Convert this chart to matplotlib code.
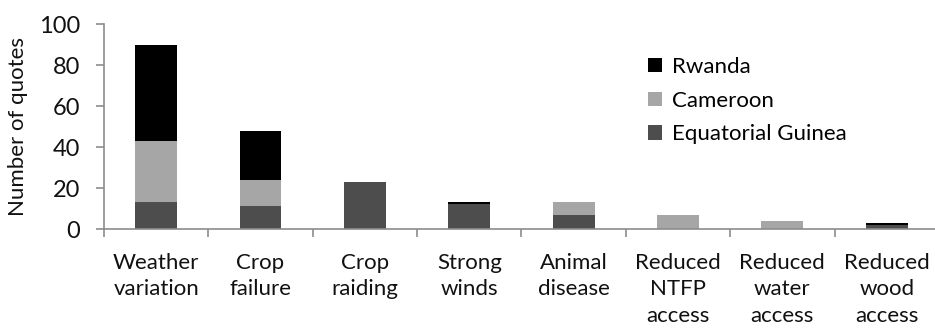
import matplotlib
matplotlib.use("Agg")
import matplotlib.pyplot as plt
import numpy as np

categories = ["Weather\nvariation", "Crop\nfailure", "Crop\nraiding", "Strong\nwinds",
              "Animal\ndisease", "Reduced\nNTFP\naccess", "Reduced\nwater\naccess", "Reduced\nwood\naccess"]
equatorial_guinea = [13, 11, 23, 12, 7, 0, 0, 2]
cameroon = [30, 13, 0, 0, 6, 7, 4, 0]
rwanda = [47, 24, 0, 1, 0, 0, 0, 1]
yticks = [0, 20, 40, 60, 80, 100]

plt.rcParams['font.family'] = ['Lato', 'DejaVu Sans']

fig = plt.figure(figsize=(9.35, 3.32), dpi=100)
ax = fig.add_axes([0.1112, 0.3102, 0.893, 0.6175])

x = np.arange(len(categories))
eg = np.array(equatorial_guinea)
cm = np.array(cameroon)
rw = np.array(rwanda)
w = 0.4
b1 = ax.bar(x, eg, w, color="#4d4d4d", label="Equatorial Guinea")
b2 = ax.bar(x, cm, w, bottom=eg, color="#a6a6a6", label="Cameroon")
b3 = ax.bar(x, rw, w, bottom=eg + cm, color="#000000", label="Rwanda")

ax.set_xlim(-0.5, len(categories) - 0.5)
ax.set_ylim(0, 100)
ax.set_yticks(yticks)
ax.set_xticks(x)
ax.set_xticklabels(categories, fontsize=16, color="#111111", linespacing=1.42)
ax.set_xticks(np.arange(len(categories) + 1) - 0.5, minor=True)
ax.tick_params(axis="x", which="major", length=0, pad=17)
ax.tick_params(axis="x", which="minor", length=6, width=1.2, color="#8c8c8c")
ax.tick_params(axis="y", length=6, width=1.2, color="#8c8c8c", labelsize=17, labelcolor="#111111", pad=11)
for s in ["top", "right"]:
    ax.spines[s].set_visible(False)
for s in ["left", "bottom"]:
    ax.spines[s].set_color("#8c8c8c")
    ax.spines[s].set_linewidth(1.2)
ax.set_ylabel("Number of quotes", fontsize=16, color="#111111", labelpad=8)

ax.legend(handles=[b3, b2, b1], loc="upper left", bbox_to_anchor=(0.652, 0.84),
          frameon=False, fontsize=16, handlelength=0.6, handleheight=0.6,
          handletextpad=0.45, labelspacing=0.62, borderpad=0, borderaxespad=0)

fig.savefig("out.png", dpi=100)
